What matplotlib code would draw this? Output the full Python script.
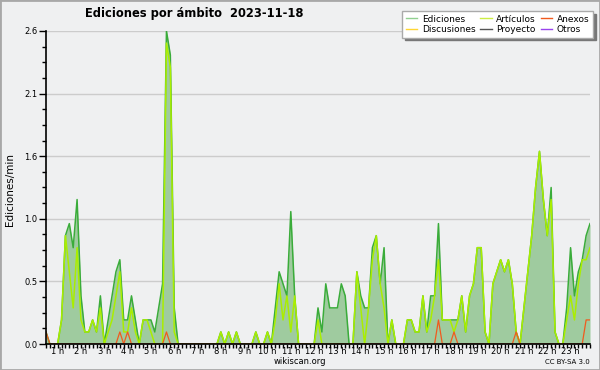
"""
Ediciones por ámbito (wikiscan), 2023-11-18, bins de 10 minutos
"""

import numpy as np
import matplotlib.pyplot as plt
from matplotlib import ticker
from matplotlib.lines import Line2D
from matplotlib.patches import Rectangle

plt.rcParams['font.family'] = ['DejaVu Sans']

# valores en ediciones/min, 6 por hora (cada 10 min), de 0:00 a 23:20
ediciones = [
    0.1, 0, 0, 0, 0.2, 0.9,        # 0 h
    1.0, 0.8, 1.2, 0.4, 0.1, 0.1,  # 1 h
    0.2, 0.1, 0.4, 0, 0.2, 0.4,    # 2 h
    0.6, 0.7, 0.2, 0.2, 0.4, 0.2,  # 3 h
    0, 0.2, 0.2, 0.2, 0.1, 0.3,    # 4 h
    0.5, 2.6, 2.4, 0.3, 0, 0,      # 5 h
    0, 0, 0, 0, 0, 0,              # 6 h
    0, 0, 0, 0.1, 0, 0.1,          # 7 h
    0, 0.1, 0, 0, 0, 0,            # 8 h
    0.1, 0, 0, 0.1, 0, 0.3,        # 9 h
    0.6, 0.5, 0.4, 1.1, 0.4, 0,    # 10 h
    0, 0, 0, 0, 0.3, 0.1,          # 11 h
    0.5, 0.3, 0.3, 0.3, 0.5, 0.4,  # 12 h
    0, 0, 0.6, 0.4, 0.3, 0.3,      # 13 h
    0.8, 0.9, 0.5, 0.8, 0, 0.2,    # 14 h
    0, 0, 0, 0.2, 0.2, 0.1,        # 15 h
    0.1, 0.4, 0.1, 0.4, 0.4, 1.0,  # 16 h
    0.2, 0.2, 0.2, 0.2, 0.2, 0.4,  # 17 h
    0.1, 0.4, 0.5, 0.8, 0.8, 0.1,  # 18 h
    0, 0.5, 0.6, 0.7, 0.6, 0.7,    # 19 h
    0.5, 0.1, 0, 0.3, 0.6, 0.9,    # 20 h
    1.3, 1.6, 1.2, 0.9, 1.3, 0.1,  # 21 h
    0, 0, 0.3, 0.8, 0.4, 0.6,      # 22 h
    0.7, 0.9, 1.0,                 # 23 h
]

articulos = [
    0, 0, 0, 0, 0.2, 0.9,
    0.6, 0.3, 0.8, 0.2, 0.1, 0.1,
    0.2, 0.1, 0.3, 0, 0.1, 0.2,
    0.4, 0.6, 0.1, 0.1, 0.3, 0.1,
    0, 0.2, 0.2, 0.1, 0, 0,
    0, 2.5, 2.3, 0.1, 0, 0,
    0, 0, 0, 0, 0, 0,
    0, 0, 0, 0.1, 0, 0.1,
    0, 0.1, 0, 0, 0, 0,
    0.1, 0, 0, 0.1, 0, 0.2,
    0.5, 0.2, 0.4, 0.1, 0.4, 0,
    0, 0, 0, 0, 0.2, 0,
    0, 0, 0, 0, 0, 0,
    0, 0, 0.6, 0.3, 0, 0.3,
    0.7, 0.9, 0.5, 0.3, 0, 0.2,
    0, 0, 0, 0.2, 0.2, 0.1,
    0.1, 0.4, 0.1, 0.2, 0.4, 0.7,
    0.2, 0.2, 0.2, 0.1, 0.2, 0.4,
    0.1, 0.4, 0.5, 0.8, 0.8, 0.1,
    0, 0.5, 0.6, 0.7, 0.6, 0.7,
    0.5, 0.1, 0, 0.3, 0.6, 0.9,
    1.3, 1.6, 1.2, 0.9, 1.2, 0.1,
    0, 0, 0.2, 0.4, 0.2, 0.5,
    0.7, 0.7, 0.8,
]

anexos = [
    0.1, 0, 0, 0, 0, 0,
    0, 0, 0, 0, 0, 0,
    0, 0, 0, 0, 0, 0,
    0, 0.1, 0, 0.1, 0, 0,
    0, 0, 0, 0, 0, 0,
    0, 0.1, 0, 0, 0, 0,
    0, 0, 0, 0, 0, 0,
    0, 0, 0, 0, 0, 0,
    0, 0, 0, 0, 0, 0,
    0, 0, 0, 0, 0, 0,
    0, 0, 0, 0, 0, 0,
    0, 0, 0, 0, 0, 0,
    0, 0, 0, 0, 0, 0,
    0, 0, 0, 0, 0, 0,
    0, 0, 0, 0, 0, 0,
    0, 0, 0, 0, 0, 0,
    0, 0, 0, 0, 0, 0.2,
    0, 0, 0, 0.1, 0, 0,
    0, 0, 0, 0, 0, 0,
    0, 0, 0, 0, 0, 0,
    0, 0.1, 0, 0, 0, 0,
    0, 0, 0, 0, 0, 0,
    0, 0, 0, 0, 0, 0,
    0, 0.2, 0.2,
]

# sin ediciones en el día
discusiones = [0.0] * len(ediciones)
proyecto = [0.0] * len(ediciones)
otros = [0.0] * len(ediciones)

horas = list(range(1, 24))
hora_labels = ['%d h' % h for h in horas]

t = np.arange(len(ediciones)) / 6.0  # en horas

fondo = '#eff0f1'
c_edic = '#3aac3a'
c_fill = '#9fcb9f'
c_art = '#aaee00'
c_anex = '#f05a1e'
c_disc = '#ffd633'
c_proy = '#555555'
c_otros = '#9944ee'

fig = plt.figure(figsize=(6, 3.7), dpi=100, facecolor=fondo)
ax = fig.add_axes([46/600, 26/370, 544/600, 313/370])
ax.set_facecolor(fondo)

ax.fill_between(t, ediciones, 0, color=c_fill, lw=0, zorder=1)
ax.plot(t, ediciones, color=c_edic, lw=1.1, zorder=3)
ax.plot(t, discusiones, color=c_disc, lw=1.0, zorder=2)
ax.plot(t, proyecto, color=c_proy, lw=1.0, zorder=2)
ax.plot(t, otros, color=c_otros, lw=1.0, zorder=2)
ax.plot(t, articulos, color=c_art, lw=1.1, zorder=4)
ax.plot(t, anexos, color=c_anex, lw=0.9, zorder=5)

#ejes
ax.set_xlim(0, t[-1])
ax.set_ylim(0, 2.6)
yt = np.linspace(0, 2.6, 6)
ax.set_yticks(yt)
ax.set_yticklabels(['%.1f' % v for v in yt])
ax.yaxis.set_minor_locator(ticker.MultipleLocator(0.13))
ax.grid(axis='y', which='major', color='#cccccc', lw=1)
ax.set_axisbelow(True)

ax.set_xticks(np.array(horas) - 0.5)
ax.set_xticklabels(hora_labels)
ax.xaxis.set_minor_locator(ticker.MultipleLocator(1/6))
ax.xaxis.remove_overlapping_locs = False
ax.tick_params(axis='x', which='major', length=0, labelsize=6, pad=2.5)
ax.tick_params(axis='x', which='minor', length=3, width=1, direction='out')
ax.tick_params(axis='y', which='major', length=5, width=1, labelsize=6, pad=1)
ax.tick_params(axis='y', which='minor', length=3, width=1)
for s in ('top', 'right'):
    ax.spines[s].set_visible(False)
for s in ('left', 'bottom'):
    ax.spines[s].set_linewidth(1.2)
    ax.spines[s].set_zorder(6)

#textos
fig.text(85/600, 1 - 14/370, 'Ediciones por ámbito  2023-11-18',
         fontsize=8.3, fontweight='bold', ha='left', va='center')
fig.text(10/600, 1 - 190/370, 'Ediciones/min', rotation=90,
         fontsize=7.5, ha='center', va='center')
fig.text(300/600, 1 - 362/370, 'wikiscan.org', fontsize=6,
         ha='center', va='center')
fig.text(590/600, 1 - 362/370, 'CC BY-SA 3.0', fontsize=5,
         ha='right', va='center')

#leyenda
nombres = ['Ediciones', 'Discusiones', 'Artículos', 'Proyecto', 'Anexos', 'Otros']
colores = ['#90d090', c_disc, '#ccee44', c_proy, c_anex, c_otros]
handles = [Line2D([], [], color=c, lw=1) for c in colores]
leg = fig.legend(handles, nombres, ncol=3, loc='upper right',
                 bbox_to_anchor=(593/600, 1 - 11/370), fontsize=6.5,
                 frameon=True, fancybox=False,
                 shadow={'color': '#777777', 'alpha': 1},
                 edgecolor='#aaaaaa', facecolor='white', framealpha=1,
                 handlelength=1.3, handletextpad=0.5, columnspacing=0.5,
                 labelspacing=0.15, borderpad=0.4, borderaxespad=0)

fig.add_artist(Rectangle((0, 0), 1, 1, transform=fig.transFigure,
                         fill=False, edgecolor='#a8a8a8', lw=2))

fig.savefig('out.png', dpi=100, facecolor=fondo)
print('fig.saved')
